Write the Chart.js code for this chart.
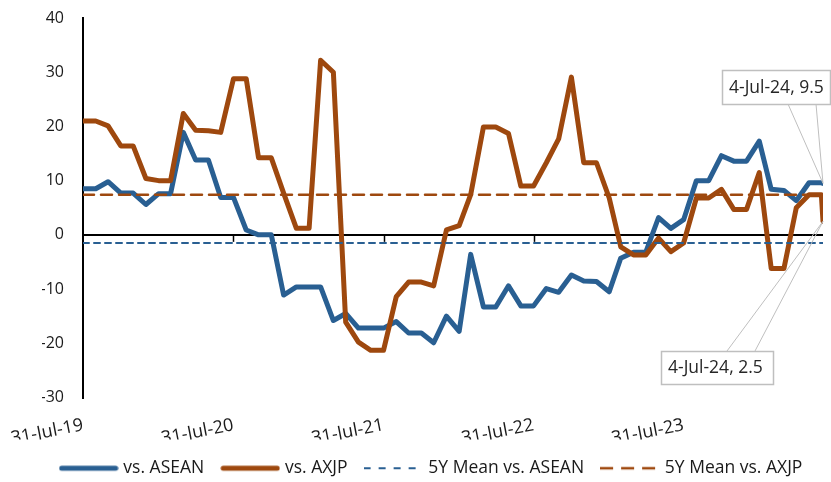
<!DOCTYPE html>
<html>
<head>
<meta charset="utf-8">
<script src="https://cdn.jsdelivr.net/npm/chart.js@4.4.0/dist/chart.umd.min.js"></script>
<style>
  html, body { margin: 0; padding: 0; background: #fff; }
  #wrap { width: 831px; height: 482px; }
</style>
</head>
<body>
<div id="wrap"><canvas id="chart" width="831" height="482"></canvas></div>
<script>
// month-end observations, last one is the latest print
const dates = [
  '2019-07-31','2019-08-31','2019-09-30','2019-10-31','2019-11-30','2019-12-31',
  '2020-01-31','2020-02-29','2020-03-31','2020-04-30','2020-05-31','2020-06-30',
  '2020-07-31','2020-08-31','2020-09-30','2020-10-31','2020-11-30','2020-12-31',
  '2021-01-31','2021-02-28','2021-03-31','2021-04-30','2021-05-31','2021-06-30',
  '2021-07-31','2021-08-31','2021-09-30','2021-10-31','2021-11-30','2021-12-31',
  '2022-01-31','2022-02-28','2022-03-31','2022-04-30','2022-05-31','2022-06-30',
  '2022-07-31','2022-08-31','2022-09-30','2022-10-31','2022-11-30','2022-12-31',
  '2023-01-31','2023-02-28','2023-03-31','2023-04-30','2023-05-31','2023-06-30',
  '2023-07-31','2023-08-31','2023-09-30','2023-10-31','2023-11-30','2023-12-31',
  '2024-01-31','2024-02-29','2024-03-31','2024-04-30','2024-05-31','2024-06-30',
  '2024-07-04'
];

const vsAsean = [
  8.5, 8.5, 9.8, 7.7, 7.7, 5.6,
  7.6, 7.6, 18.9, 13.8, 13.8, 6.9,
  6.9, 0.9, 0.0, 0.0, -11.1, -9.6,
  -9.6, -9.6, -15.8, -14.5, -17.2, -17.2,
  -17.2, -16.0, -18.1, -18.1, -19.9, -15.0,
  -17.8, -3.6, -13.3, -13.3, -9.4, -13.1,
  -13.1, -9.9, -10.6, -7.4, -8.5, -8.6,
  -10.5, -4.3, -3.2, -3.2, 3.2, 1.2,
  2.8, 10.0, 10.0, 14.6, 13.6, 13.6,
  17.3, 8.4, 8.2, 6.3, 9.6, 9.6,
  9.5
];

const vsAxjp = [
  21.0, 21.0, 20.1, 16.4, 16.4, 10.4,
  10.0, 10.0, 22.4, 19.3, 19.2, 18.9,
  28.8, 28.8, 14.2, 14.2, 7.7, 1.2,
  1.2, 32.2, 30.0, -16.1, -19.8, -21.3,
  -21.3, -11.4, -8.7, -8.7, -9.4, 0.9,
  1.7, 7.4, 19.9, 19.9, 18.7, 9.0,
  9.0, 13.3, 17.7, 29.1, 13.3, 13.3,
  6.8, -2.2, -3.7, -3.7, -0.6, -3.1,
  -1.5, 6.8, 6.8, 8.4, 4.7, 4.7,
  11.5, -6.2, -6.2, 5.0, 7.4, 7.4,
  2.5
];

const meanAsean = -1.5;
const meanAxjp = 7.4;

const tickDates = ['2019-07-31', '2020-07-31', '2021-07-31', '2022-07-31', '2023-07-31'];
const yTicks = [-30, -20, -10, 0, 10, 20, 30, 40];

const BLUE = '#295F92';
const ORANGE = '#9E480E';
const FONT = "'Open Sans', 'DejaVu Sans', sans-serif";
const MONTHS = ['Jan','Feb','Mar','Apr','May','Jun','Jul','Aug','Sep','Oct','Nov','Dec'];

const toTime = s => Date.parse(s + 'T00:00:00Z');
function fmtDate(t) {
  const d = new Date(t);
  return d.getUTCDate() + '-' + MONTHS[d.getUTCMonth()] + '-' + String(d.getUTCFullYear()).slice(2);
}

const xs = dates.map(toTime);
const series = vals => vals.map((v, i) => ({ x: xs[i], y: v }));
const flat = v => [{ x: xs[0], y: v }, { x: xs[xs.length - 1], y: v }];

// legend swatches: a short stroke in the series style
function swatch(color, width, dash) {
  const c = document.createElement('canvas');
  c.width = 60;
  c.height = 8;
  const g = c.getContext('2d');
  g.strokeStyle = color;
  g.lineWidth = width;
  g.lineCap = dash ? 'butt' : 'round';
  g.setLineDash(dash || []);
  g.beginPath();
  g.moveTo(dash ? 0 : 3, 4);
  g.lineTo(dash ? 60 : 57, 4);
  g.stroke();
  return c;
}
const swatches = [
  swatch(BLUE, 5),
  swatch(ORANGE, 5),
  swatch(BLUE, 2, [7, 8]),
  swatch(ORANGE, 2.5, [13, 8])
];

// small down ticks on the zero line at each year mark
const zeroTicks = {
  id: 'zeroTicks',
  beforeDatasetsDraw(chart) {
    const { ctx, scales: { x, y } } = chart;
    const y0 = y.getPixelForValue(0);
    ctx.save();
    ctx.strokeStyle = '#000';
    ctx.lineWidth = 1.5;
    tickDates.slice(1).forEach(d => {
      const px = Math.round(x.getPixelForValue(toTime(d))) + 0.5;
      ctx.beginPath();
      ctx.moveTo(px, y0);
      ctx.lineTo(px, y0 + 7);
      ctx.stroke();
    });
    ctx.restore();
  }
};

// data callouts for the latest points
const callouts = {
  id: 'callouts',
  afterDraw(chart) {
    const { ctx, scales: { x, y } } = chart;
    const last = xs.length - 1;
    const items = [
      { vals: vsAsean, box: [722, 70, 108, 34], legs: [788, 816], fromBottom: true },
      { vals: vsAxjp, box: [661, 351, 112, 33], legs: [727, 755], fromBottom: false }
    ];
    ctx.save();
    items.forEach(it => {
      const px = x.getPixelForValue(xs[last]);
      const py = y.getPixelForValue(it.vals[last]);
      const [bx, by, bw, bh] = it.box;
      const ly = it.fromBottom ? by + bh : by;
      ctx.strokeStyle = '#BFBFBF';
      ctx.lineWidth = 1;
      ctx.beginPath();
      ctx.moveTo(it.legs[0], ly);
      ctx.lineTo(px, py);
      ctx.lineTo(it.legs[1], ly);
      ctx.stroke();
      ctx.fillStyle = '#fff';
      ctx.fillRect(bx, by, bw, bh);
      ctx.lineWidth = 1.5;
      ctx.strokeRect(bx + 0.5, by + 0.5, bw, bh);
      ctx.fillStyle = '#262626';
      ctx.font = '17.5px ' + FONT;
      ctx.textBaseline = 'middle';
      ctx.textAlign = 'left';
      ctx.fillText(fmtDate(xs[last]) + ', ' + it.vals[last], bx + 7, by + bh / 2 + 1);
    });
    ctx.restore();
  }
};

new Chart(document.getElementById('chart'), {
  type: 'line',
  data: {
    datasets: [
      {
        label: 'vs. ASEAN', data: series(vsAsean),
        borderColor: BLUE, backgroundColor: BLUE, borderWidth: 5, order: 4
      },
      {
        label: 'vs. AXJP', data: series(vsAxjp),
        borderColor: ORANGE, backgroundColor: ORANGE, borderWidth: 5, order: 3
      },
      {
        label: '5Y Mean vs. ASEAN', data: flat(meanAsean),
        borderColor: BLUE, backgroundColor: BLUE, borderWidth: 2, borderDash: [6, 5], order: 2
      },
      {
        label: '5Y Mean vs. AXJP', data: flat(meanAxjp),
        borderColor: ORANGE, backgroundColor: ORANGE, borderWidth: 2.5, borderDash: [11, 7], order: 1
      }
    ]
  },
  options: {
    responsive: false,
    animation: false,
    devicePixelRatio: 1,
    layout: { padding: { top: 18, right: 8, bottom: -5, left: 42 } },
    elements: {
      point: { radius: 0, hoverRadius: 0 },
      line: { tension: 0, borderJoinStyle: 'round', borderCapStyle: 'round' }
    },
    scales: {
      x: {
        type: 'linear',
        min: xs[0],
        max: xs[xs.length - 1],
        afterBuildTicks: s => { s.ticks = tickDates.map(d => ({ value: toTime(d) })); },
        afterFit: s => { s.height = 42; },
        // invisible tick marks just push the labels down
        grid: {
          display: true,
          drawOnChartArea: false,
          drawTicks: true,
          tickLength: 17,
          color: 'rgba(0,0,0,0)',
          tickColor: 'rgba(0,0,0,0)'
        },
        border: { display: false },
        ticks: {
          autoSkip: false,
          minRotation: 11,
          maxRotation: 11,
          padding: 0,
          color: '#1a1a1a',
          font: { family: FONT, size: 18 },
          callback: v => fmtDate(v)
        }
      },
      y: {
        min: -30,
        max: 40,
        afterBuildTicks: s => { s.ticks = yTicks.map(v => ({ value: v })); },
        afterFit: s => { s.width = 41; },
        grid: {
          drawTicks: true,
          tickLength: 19,
          tickColor: 'rgba(0,0,0,0)',
          lineWidth: 2,
          color: c => (c.tick && c.tick.value === 0 ? '#000' : 'rgba(0,0,0,0)')
        },
        border: { display: true, color: '#000', width: 2 },
        ticks: {
          padding: 0,
          color: '#1a1a1a',
          font: { family: FONT, size: 16 }
        }
      }
    },
    plugins: {
      tooltip: { enabled: false },
      legend: {
        position: 'bottom',
        labels: {
          usePointStyle: true,
          pointStyleWidth: 52,
          padding: 20,
          color: '#1a1a1a',
          font: { family: FONT, size: 17.5 },
          generateLabels: chart =>
            Chart.defaults.plugins.legend.labels.generateLabels(chart)
              .map(item => Object.assign(item, { pointStyle: swatches[item.datasetIndex] })),
          sort: (a, b) => a.datasetIndex - b.datasetIndex
        }
      }
    }
  },
  plugins: [zeroTicks, callouts]
});
</script>
</body>
</html>
